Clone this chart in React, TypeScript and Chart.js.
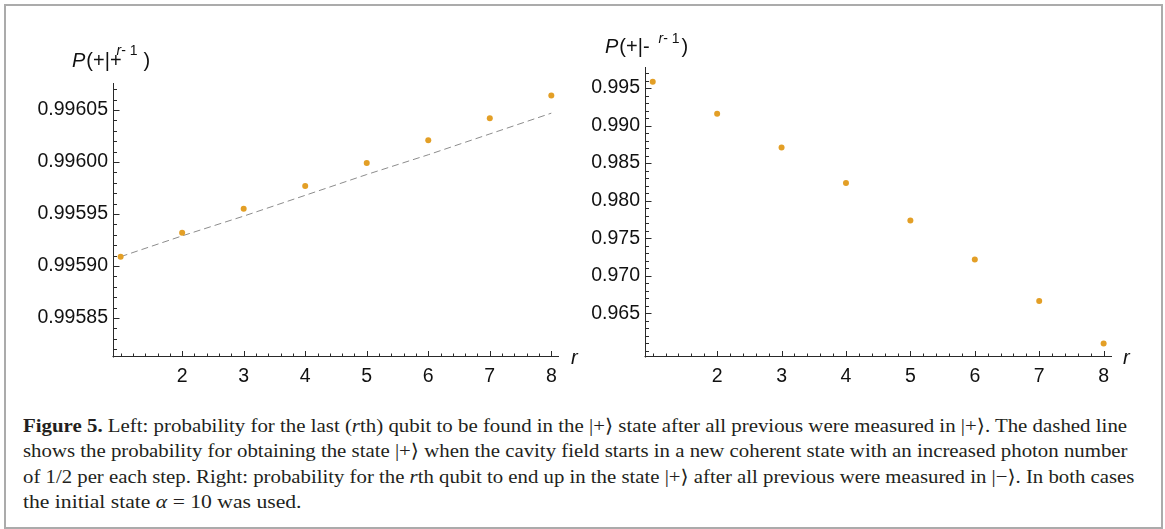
import React, { useEffect, useLayoutEffect, useRef } from "react";
import { Chart, registerables } from "chart.js";

Chart.register(...registerables);
Chart.defaults.font.family = '"Liberation Sans", Arial, sans-serif';

// ---------- data ----------
const rValues = [1, 2, 3, 4, 5, 6, 7, 8];
const leftPoints = [0.995909, 0.995932, 0.995955, 0.995977, 0.995999, 0.996021, 0.996042, 0.996064];
const leftDashed = [0.995909, 0.995929, 0.995948, 0.995968, 0.995988, 0.996007, 0.996027, 0.996047];
const rightPoints = [0.99584, 0.99156, 0.98708, 0.98236, 0.97736, 0.97214, 0.96664, 0.96095];
const xTickLabels = [2, 3, 4, 5, 6, 7, 8];
const leftYTicks = [0.99585, 0.9959, 0.99595, 0.996, 0.99605];
const rightYTicks = [0.965, 0.97, 0.975, 0.98, 0.985, 0.99, 0.995];

const POINT_COLOR = "#E39F26";
const AXIS_COLOR = "#2a2a2a";
const TEXT_COLOR = "#111";
const TICK_FONT_SIZE = 19.5;

function range(start: number, end: number, step: number): number[] {
  const out: number[] = [];
  const n = Math.round((end - start) / step);
  for (let i = 0; i <= n; i++) out.push(start + i * step);
  return out;
}

const inwardAxes = {
  id: "inwardAxes",
  beforeDatasetsDraw(chart: any) {
    const o = chart.options.plugins.inwardAxes;
    if (!o) return;
    const { ctx, chartArea } = chart;
    const xs = chart.scales.x;
    const ys = chart.scales.y;
    const L = Math.round(chartArea.left) + 0.5;
    const B = Math.round(chartArea.bottom) + 0.5;
    ctx.save();
    ctx.strokeStyle = AXIS_COLOR;
    ctx.lineWidth = 1;
    ctx.beginPath();
    ctx.moveTo(L, chartArea.top);
    ctx.lineTo(L, B + 1);
    ctx.moveTo(L - 1, B);
    ctx.lineTo(chartArea.right, B);
    ctx.stroke();
    ctx.beginPath();
    for (const v of o.yMinor) {
      const py = Math.round(ys.getPixelForValue(v)) + 0.5;
      if (py < chartArea.top || py > chartArea.bottom - 1) continue;
      const major = o.yMajor.some((m: number) => Math.abs(m - v) < o.yEps);
      ctx.moveTo(L, py);
      ctx.lineTo(L + (major ? 6 : 3.5), py);
    }
    for (const v of o.xMinor) {
      const px = Math.round(xs.getPixelForValue(v)) + 0.5;
      if (px < chartArea.left + 1 || px > chartArea.right) continue;
      const major = o.xMajor.some((m: number) => Math.abs(m - v) < 1e-6);
      ctx.moveTo(px, B);
      ctx.lineTo(px, B - (major ? 5.5 : 3));
    }
    ctx.stroke();
    ctx.restore();
  },
  afterDraw(chart: any) {
    const o = chart.options.plugins.inwardAxes;
    if (!o) return;
    const { ctx } = chart;
    ctx.save();
    ctx.fillStyle = TEXT_COLOR;
    ctx.textBaseline = "alphabetic";
    ctx.textAlign = "left";
    // y title
    let x = o.titleX;
    const base = o.titleY;
    ctx.font = 'italic 20px "Liberation Sans"';
    ctx.fillText("P", x, base);
    x += ctx.measureText("P").width + 1;
    ctx.font = '20px "Liberation Sans"';
    ctx.fillText("(+|", x, base);
    x += ctx.measureText("(+|").width;
    ctx.fillText(o.sign, x, base);
    x += ctx.measureText(o.sign).width + o.supGap;
    const sb = base - o.supRaise;
    ctx.font = 'italic 14px "Liberation Sans"';
    ctx.fillText("r", x, sb);
    x += ctx.measureText("r").width;
    ctx.font = '14px "Liberation Sans"';
    ctx.fillText("- 1", x, sb);
    x += ctx.measureText("- 1").width + o.closeGap;
    ctx.font = '20px "Liberation Sans"';
    ctx.fillText(")", x, base);
    // x title
    ctx.font = 'italic 20px "Liberation Sans"';
    ctx.fillText("r", chart.chartArea.right + o.rGap, Math.round(chart.chartArea.bottom) + 8);
    ctx.restore();
  },
};
Chart.register(inwardAxes);

function makeConfig(opts: {
  points: number[];
  dashed?: number[];
  xMin: number;
  xMax: number;
  yMin: number;
  yMax: number;
  yTicks: number[];
  yMinor: number[];
  yEps: number;
  decimals: number;
  yAxisWidth: number;
  padRight: number;
  padTop: number;
  titleX: number;
  titleY: number;
  sign: string;
  supGap: number;
  supRaise: number;
  closeGap: number;
  rGap: number;
}) {
  const datasets: any[] = [];
  datasets.push({
    type: "scatter",
    data: rValues.map((r, i) => ({ x: r, y: opts.points[i] })),
    pointRadius: 3,
    pointBackgroundColor: POINT_COLOR,
    pointBorderWidth: 0,
    order: 1,
  });
  if (opts.dashed) {
    datasets.push({
      type: "line",
      data: rValues.map((r, i) => ({ x: r, y: opts.dashed![i] })),
      borderColor: "#8c8c8c",
      borderWidth: 1,
      borderDash: [7, 4],
      pointRadius: 0,
      fill: false,
      tension: 0,
      order: 2,
    });
  }
  return {
    type: "scatter" as const,
    data: { datasets },
    options: {
      responsive: false,
      animation: false,
      events: [],
      layout: { padding: { left: 0, right: opts.padRight, top: opts.padTop, bottom: 0 } },
      plugins: {
        legend: { display: false },
        tooltip: { enabled: false },
        inwardAxes: {
          yMajor: opts.yTicks,
          yMinor: opts.yMinor,
          yEps: opts.yEps,
          xMajor: xTickLabels,
          xMinor: range(1, 8, 0.2),
          titleX: opts.titleX,
          titleY: opts.titleY,
          sign: opts.sign,
          supGap: opts.supGap,
          supRaise: opts.supRaise,
          closeGap: opts.closeGap,
          rGap: opts.rGap,
        },
      },
      scales: {
        x: {
          type: "linear",
          min: opts.xMin,
          max: opts.xMax,
          grid: { display: false, drawTicks: false },
          border: { display: false },
          afterBuildTicks: (s: any) => {
            s.ticks = xTickLabels.map((v) => ({ value: v }));
          },
          afterFit: (s: any) => {
            s.height = 39;
          },
          ticks: {
            padding: 9,
            color: TEXT_COLOR,
            font: { size: TICK_FONT_SIZE },
            autoSkip: false,
            maxRotation: 0,
            callback: (v: any) => String(v),
          },
        },
        y: {
          type: "linear",
          min: opts.yMin,
          max: opts.yMax,
          grid: { display: false, drawTicks: false },
          border: { display: false },
          afterBuildTicks: (s: any) => {
            s.ticks = opts.yTicks.map((v) => ({ value: v }));
          },
          afterFit: (s: any) => {
            s.width = opts.yAxisWidth;
          },
          ticks: {
            padding: 5,
            color: TEXT_COLOR,
            font: { size: TICK_FONT_SIZE },
            autoSkip: false,
            callback: (v: any) => Number(v).toFixed(opts.decimals),
          },
        },
      },
    },
  };
}

function ChartCanvas({ config, width, height, left }: { config: any; width: number; height: number; left: number }) {
  const ref = useRef<HTMLCanvasElement | null>(null);
  useEffect(() => {
    if (!ref.current) return;
    const chart = new Chart(ref.current, config);
    return () => chart.destroy();
  }, []);
  return (
    <canvas
      ref={ref}
      width={width}
      height={height}
      style={{ position: "absolute", left, top: 0, width, height }}
    />
  );
}

const captionLines: React.ReactNode[] = [
  <>
    <b>Figure 5.</b> Left: probability for the last (<i>r</i>th) qubit to be found in the |+⟩ state after all previous
    were measured in |+⟩. The dashed line
  </>,
  <>
    shows the probability for obtaining the state |+⟩ when the cavity field starts in a new coherent state with an
    increased photon number
  </>,
  <>
    of 1/2 per each step. Right: probability for the <i>r</i>th qubit to end up in the state |+⟩ after all previous
    were measured in |−⟩. In both cases
  </>,
  <>
    the initial state <i>α</i> = 10 was used.
  </>,
];

const captionTargets = [1104, 1105, 1111, 278];

function Caption() {
  const refs = useRef<(HTMLSpanElement | null)[]>([]);
  useLayoutEffect(() => {
    const fit = () => {
      refs.current.forEach((el, i) => {
        if (!el) return;
        el.style.transform = "none";
        const w = el.offsetWidth;
        const s = captionTargets[i] / w;
        el.style.transform = `scaleX(${s})`;
      });
    };
    fit();
    (document as any).fonts?.ready?.then(fit);
  }, []);
  return (
    <div
      style={{
        position: "absolute",
        left: 23,
        top: 413,
        fontFamily: '"Liberation Serif", "DejaVu Serif", serif',
        fontSize: 19,
        lineHeight: "25.3px",
        color: "#231f20",
      }}
    >
      {captionLines.map((line, i) => (
        <div key={i} style={{ height: 25.3, whiteSpace: "nowrap" }}>
          <span
            ref={(el) => {
              refs.current[i] = el;
            }}
            style={{ display: "inline-block", transformOrigin: "0 0", whiteSpace: "nowrap" }}
          >
            {line}
          </span>
        </div>
      ))}
    </div>
  );
}

export default function App() {
  const leftConfig = makeConfig({
    points: leftPoints,
    dashed: leftDashed,
    xMin: 0.876,
    xMax: 8.125,
    yMin: 0.9958135,
    yMax: 0.996076,
    yTicks: leftYTicks,
    yMinor: range(0.99582, 0.99607, 0.00001),
    yEps: 1e-9,
    decimals: 5,
    yAxisWidth: 113,
    padRight: 21,
    padTop: 83,
    titleX: 72,
    titleY: 67,
    sign: "+",
    supGap: -5,
    supRaise: 12,
    closeGap: 6,
    rGap: 12,
  });
  const rightConfig = makeConfig({
    points: rightPoints,
    xMin: 0.88,
    xMax: 8.13,
    yMin: 0.9593,
    yMax: 0.9978,
    yTicks: rightYTicks,
    yMinor: range(0.96, 0.997, 0.001),
    yEps: 1e-7,
    decimals: 3,
    yAxisWidth: 65,
    padRight: 53,
    padTop: 67,
    titleX: 25,
    titleY: 53,
    sign: "-",
    supGap: 9,
    supRaise: 10,
    closeGap: 2,
    rGap: 11,
  });
  return (
    <div
      style={{
        position: "absolute",
        left: 0,
        top: 0,
        width: 1165,
        height: 529,
        background: "#fff",
        overflow: "hidden",
      }}
    >
      <div
        style={{
          position: "absolute",
          left: 4,
          top: 4,
          width: 1155,
          height: 521,
          border: "2px solid #ababab",
        }}
      />
      <ChartCanvas config={leftConfig} width={580} height={395} left={0} />
      <ChartCanvas config={rightConfig} width={585} height={395} left={580} />
      <Caption />
    </div>
  );
}
